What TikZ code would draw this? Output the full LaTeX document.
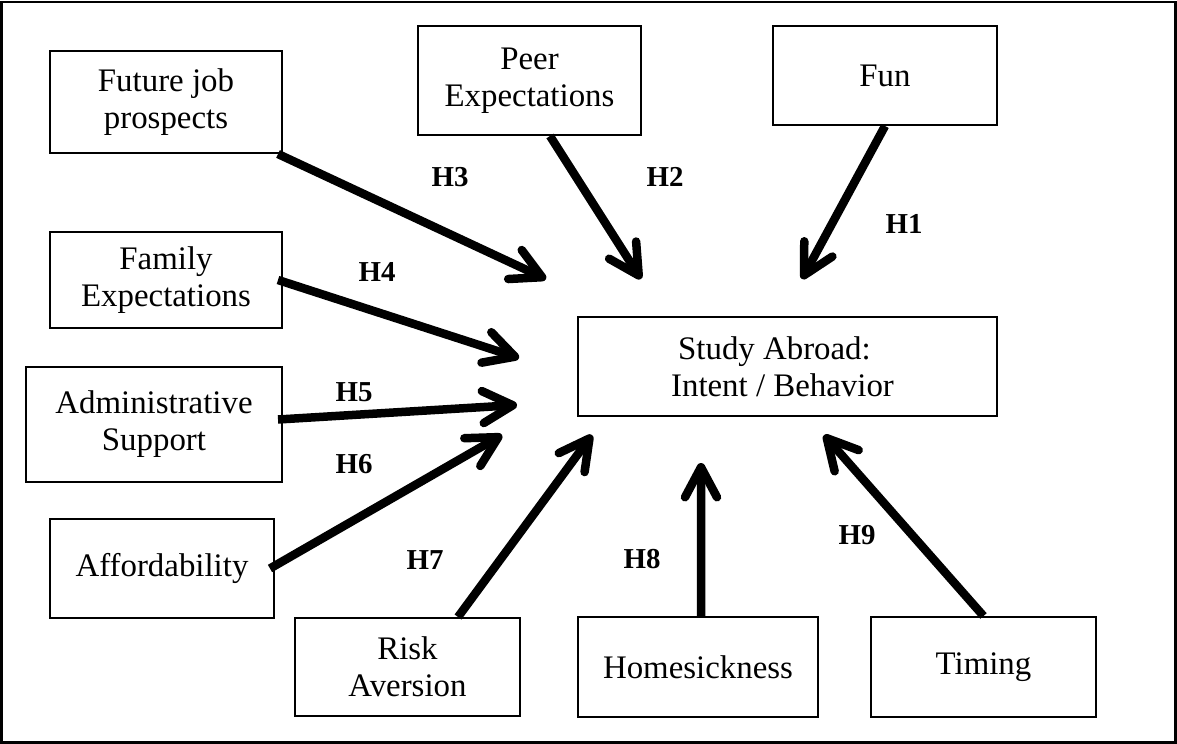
\documentclass[tikz,border=0pt]{standalone}
\usepackage{fontspec}
\setmainfont{Liberation Serif}
\usetikzlibrary{arrows.meta}
\tikzset{
  box/.style={draw=black, line width=2bp, inner sep=0pt, align=center,
    font=\fontsize{33}{37}\selectfont},
  hlabel/.style={inner sep=0pt, font=\fontsize{29}{32}\selectfont\bfseries},
  link/.style={line width=8.5bp, -{Straight Barb[length=30bp, width=32bp, round]}},
}
\begin{document}
\begin{tikzpicture}[x=1bp, y=-1bp]
\useasboundingbox (0,0) rectangle (1177,744);
\draw[line width=2.5bp] (1.5,1.8) rectangle (1175.5,742.5);

% boxes
\node[box, minimum width=232bp, minimum height=102bp] (fut) at (166,102) {Future job\\prospects};
\node[box, minimum width=223bp, minimum height=109bp] (peer) at (529.5,80.5) {Peer\\Expectations};
\node[box, minimum width=224bp, minimum height=99bp] (fun) at (885,75.5) {Fun};
\node[box, minimum width=232bp, minimum height=96bp] (fam) at (166,280) {Family\\Expectations};
\node[box, minimum width=256bp, minimum height=115bp] (adm) at (154,424.5) {Administrative\\Support};
\node[box, minimum width=224bp, minimum height=99bp] (aff) at (162,568.5) {Affordability};
\node[box, minimum width=419bp, minimum height=99bp] (study) at (787.5,366.5) {Study Abroad:\hspace*{26bp}\\Intent / Behavior\hspace*{10bp}};
\node[box, minimum width=225bp, minimum height=98bp] (risk) at (407.5,667) {Risk\\Aversion};
\node[box, minimum width=240bp, minimum height=100bp] (home) at (698,667) {Homesickness};
\node[box, minimum width=225bp, minimum height=100bp] (tim) at (983.5,667) {Timing};

% arrow tips (free ends near the outcome box)
\coordinate (t1) at (802,279);
\coordinate (t2) at (641,279);
\coordinate (t3) at (546,279);
\coordinate (t4) at (519,358);
\coordinate (t5) at (517,405);
\coordinate (t6) at (502,435);
\coordinate (t7) at (592,435);
\coordinate (t8) at (701,463);
\coordinate (t9) at (824,435);

% connectors
\draw[link] (fun.south) -- (t1);
\draw[link] ([xshift=20.5bp]peer.south) -- (t2);
\draw[link] ([xshift=-5bp]fut.south east) -- (t3);
\draw[link] ([xshift=-5bp]fam.east) -- (t4);
\draw[link] ([xshift=-5bp,yshift=5bp]adm.east) -- (t5);
\draw[link] ([xshift=-5bp]aff.east) -- (t6);
\draw[link] ([xshift=50.5bp]risk.north) -- (t7);
\draw[link] ([xshift=3bp]home.north) -- (t8);
\draw[link] (tim.north) -- (t9);

% labels
\node[hlabel] (h1) at (904,224) {H1};
\node[hlabel] (h2) at (665,177) {H2};
\node[hlabel] (h3) at (450,177) {H3};
\node[hlabel] (h4) at (377,272) {H4};
\node[hlabel] (h5) at (354,392) {H5};
\node[hlabel] (h6) at (354,464) {H6};
\node[hlabel] (h7) at (425,560) {H7};
\node[hlabel] (h8) at (642,559) {H8};
\node[hlabel] (h9) at (857,535) {H9};
\end{tikzpicture}
\end{document}
